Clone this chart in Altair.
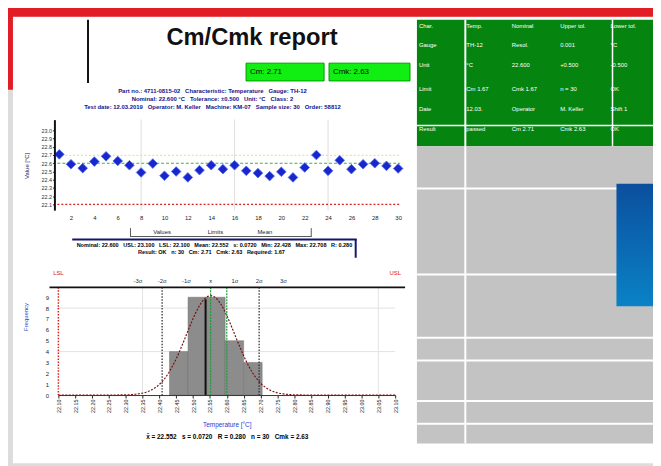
import altair as alt
import pandas as pd

# ---------------- data ----------------
sample_no = list(range(1, 31))
temperature = [22.708, 22.588, 22.540, 22.620, 22.684, 22.628, 22.576, 22.488, 22.596, 22.448,
               22.500, 22.428, 22.516, 22.576, 22.528, 22.576, 22.508, 22.480, 22.444, 22.496,
               22.428, 22.548, 22.700, 22.508, 22.636, 22.528, 22.588, 22.600, 22.568, 22.536]
lsl = 22.10
usl = 23.10
nominal = 22.60
mean = 22.552
median = 22.537
sigma = 0.072
warn_upper = 22.696
two_sigma = [22.408, 22.696]
n_samples = 30
bin_width = 0.055

bin_start = [22.430, 22.485, 22.540, 22.595, 22.650]
bin_end = [22.485, 22.540, 22.595, 22.650, 22.705]
bin_count = [4, 9, 9, 5, 3]

sigma_labels = ["-3σ", "-2σ", "-1σ", "x̄", "1σ", "2σ", "3σ"]
sigma_pos = [22.336, 22.408, 22.480, 22.552, 22.624, 22.696, 22.768]

ctrl_y_ticks = [22.1, 22.2, 22.3, 22.4, 22.5, 22.6, 22.7, 22.8, 22.9, 23.0]
ctrl_x_ticks = [2, 4, 6, 8, 10, 12, 14, 16, 18, 20, 22, 24, 26, 28, 30]
ctrl_grid = [8, 16, 24]
hist_x_ticks = [22.10, 22.15, 22.20, 22.25, 22.30, 22.35, 22.40, 22.45, 22.50, 22.55, 22.60,
                22.65, 22.70, 22.75, 22.80, 22.85, 22.90, 22.95, 23.00, 23.05, 23.10]
hist_y_ticks = [0, 1, 2, 3, 4, 5, 6, 7, 8, 9]
hist_x_grid = [22.35, 23.05]
hist_y_grid = [4, 8]

SP = "\u00a0\u00a0\u00a0"
title_text = "Cm/Cmk report"
cm_text = "Cm: 2.71"
cmk_text = "Cmk: 2.63"
subtitle_lines = [
    SP.join(["Part no.: 4711-0815-02", "Characteristic: Temperature", "Gauge: TH-12"]),
    SP.join(["Nominal: 22.600 °C", "Tolerance: ±0.500", "Unit: °C", "Class: 2"]),
    SP.join(["Test date: 12.03.2019", "Operator: M. Keller", "Machine: KM-07",
             "Sample size: 30", "Order: 58812"]),
]
legend_items = ["Values", "Limits", "Mean"]
stats_lines = [
    SP.join(["Nominal: 22.600", "USL: 23.100", "LSL: 22.100", "Mean: 22.552", "s: 0.0720",
             "Min: 22.428", "Max: 22.708", "R: 0.280"]),
    SP.join(["Result: OK", "n: 30", "Cm: 2.71", "Cmk: 2.63", "Required: 1.67"]),
]
footer_text = SP.join(["x̄ = 22.552", "s = 0.0720", "R = 0.280", "n = 30", "Cmk = 2.63"])

table_rows = [
    ["Char.", "Temp.", "Nominal", "Upper tol.", "Lower tol."],
    ["Gauge", "TH-12", "Resol.", "0.001", "°C"],
    ["Unit", "°C", "22.600", "+0.500", "-0.500"],
    ["Limit", "Cm 1.67", "Cmk 1.67", "n = 30", "OK"],
    ["Date", "12.03.", "Operator", "M. Keller", "Shift 1"],
    ["Result", "passed", "Cm 2.71", "Cmk 2.63", "OK"],
]

# ---------------- layout helpers (page px -> chart px) ----------------
W, H = 653, 458
FONT = "Liberation Sans"
ONE = pd.DataFrame({"k": [0]})


def X(p):
    return p - 8


def Y(p):
    return p - 8


def box(x1, y1, x2, y2, **kw):
    return alt.Chart(ONE).mark_rect(**kw).encode(
        x=alt.value(X(x1)), x2=alt.value(X(x2)), y=alt.value(Y(y1)), y2=alt.value(Y(y2)))


def hline(x1, x2, y, **kw):
    return alt.Chart(ONE).mark_rule(**kw).encode(
        x=alt.value(X(x1)), x2=alt.value(X(x2)), y=alt.value(Y(y)))


def vline(x, y1, y2, **kw):
    return alt.Chart(ONE).mark_rule(**kw).encode(
        x=alt.value(X(x)), y=alt.value(Y(y1)), y2=alt.value(Y(y2)))


def label(text, x, y, size=6, color="#000000", weight="normal", align="center", angle=0):
    return alt.Chart(ONE).mark_text(
        fontSize=size, color=color, fontWeight=weight, align=align, baseline="middle",
        angle=angle, font=FONT).encode(
        x=alt.value(X(x)), y=alt.value(Y(y)), text=alt.value(text))


layers = []

# ---------------- background ----------------
layers.append(box(13, 14, 661, 466, color="#ffffff"))
layers.append(box(0, 0, 661, 14, color="#e31d25"))
layers.append(box(0, 0, 13, 88, color="#e31d25"))

# right table
layers.append(box(422, 17, 661, 145, color="#058510"))
layers.append(box(422, 145, 661, 446, color="#c3c3c3"))
layers.append(hline(422, 661, 124, color="#ffffff", strokeWidth=1.5))
for yy in [188, 275, 339, 362, 403, 426]:
    layers.append(hline(422, 661, yy, color="#ffffff", strokeWidth=2))
layers.append(vline(471, 17, 446, color="#ffffff", strokeWidth=2))
layers.append(vline(620, 17, 145, color="#ffffff", strokeWidth=1.5))
blue_grad = alt.Gradient(
    gradient="linear",
    stops=[alt.GradientStop(offset=0, color="#0b4f9e"), alt.GradientStop(offset=1, color="#0a82c6")],
    x1=0, x2=0, y1=0, y2=1)
layers.append(box(624, 183, 661, 307, color=blue_grad))
col_x = [424, 472, 518, 567, 618]
row_y = [23, 43, 63, 87, 107, 128]
for r, row in enumerate(table_rows):
    for c, cell in enumerate(row):
        layers.append(label(cell, col_x[c], row_y[r], size=6, color="#ffffff", align="left"))

# ---------------- header ----------------
layers.append(vline(89, 17, 81, color="#111111", strokeWidth=2))
layers.append(label(title_text, 255, 36, size=24, weight="bold", color="#111111"))
layers.append(box(249, 61, 328, 79, color="#11ee11", stroke="#009900", strokeWidth=1))
layers.append(box(333, 61, 415, 79, color="#11ee11", stroke="#009900", strokeWidth=1))
layers.append(label(cm_text, 253, 70, size=8, align="left"))
layers.append(label(cmk_text, 337, 70, size=8, align="left"))
for i, line in enumerate(subtitle_lines):
    layers.append(label(line, 215, 89 + 8 * i, size=6, color="#12128c", weight="bold"))

# ---------------- control chart (each layer flat, own explicit scale) ----------------
def cx():
    return alt.Scale(domain=[0.75, 30.17], range=[X(57), X(405)], nice=False, zero=False)


def cy():
    return alt.Scale(domain=[22.03, 23.13], range=[Y(209.8), Y(118.2)], nice=False, zero=False)


ctrl_df = pd.DataFrame({"sample": sample_no, "temp": temperature})

layers.append(alt.Chart(pd.DataFrame({"g": ctrl_grid})).mark_rule(color="#dddddd", strokeWidth=1).encode(
    x=alt.X("g:Q", scale=cx(), axis=None), y=alt.value(Y(118)), y2=alt.value(Y(210))))
layers.append(alt.Chart(pd.DataFrame({"v": [warn_upper]})).mark_rule(
    color="#e8e070", strokeDash=[2, 2], strokeWidth=1).encode(
    y=alt.Y("v:Q", scale=cy(), axis=None), x=alt.value(X(58)), x2=alt.value(X(405))))
layers.append(alt.Chart(pd.DataFrame({"v": [lsl]})).mark_rule(
    color="#d42020", strokeDash=[2, 2], strokeWidth=1.5).encode(
    y=alt.Y("v:Q", scale=cy(), axis=None), x=alt.value(X(58)), x2=alt.value(X(405))))
layers.append(alt.Chart(pd.DataFrame({"v": [nominal]})).mark_rule(
    color="#33bb33", strokeDash=[3, 2], strokeWidth=1.2).encode(
    y=alt.Y("v:Q", scale=cy(), axis=None), x=alt.value(X(58)), x2=alt.value(X(405))))
layers.append(alt.Chart(ctrl_df).mark_point(
    shape="diamond", filled=True, size=95, color="#1a26cc", opacity=1,
    stroke="#4a6cf0", strokeWidth=0.8).encode(
    x=alt.X("sample:Q", scale=cx(), axis=alt.Axis(
        orient="bottom", offset=Y(212) - H, values=ctrl_x_ticks, domain=False, ticks=False,
        grid=False, labelFontSize=6, labelColor="#222222", labelPadding=2, title=None,
        labelFont=FONT, zindex=1)),
    y=alt.Y("temp:Q", scale=cy(), axis=alt.Axis(
        orient="left", offset=-X(55), values=ctrl_y_ticks, format=".1f", domainColor="#111111",
        domainWidth=2, tickSize=2, tickColor="#333333", labelFontSize=5.5, labelPadding=1,
        labelColor="#333333", grid=False, title=None, labelFont=FONT, zindex=1)),
))

# ---------------- histogram ----------------
def hx():
    return alt.Scale(domain=[22.10, 23.10], range=[X(59), X(400)], nice=False, zero=False)


def hy():
    return alt.Scale(domain=[0, 10], range=[Y(397), Y(287)], nice=False, zero=False)


hist_df = pd.DataFrame({"start": bin_start, "end": bin_end, "count": bin_count})

layers.append(alt.Chart(pd.DataFrame({"g": hist_x_grid})).mark_rule(color="#e2e2e2").encode(
    x=alt.X("g:Q", scale=hx(), axis=None), y=alt.value(Y(288)), y2=alt.value(Y(397))))
layers.append(alt.Chart(pd.DataFrame({"g": hist_y_grid})).mark_rule(color="#e2e2e2").encode(
    y=alt.Y("g:Q", scale=hy(), axis=None), x=alt.value(X(57)), x2=alt.value(X(400))))
layers.append(alt.Chart(hist_df).mark_rect(color="#8c8c8c", stroke="#6e6e6e", strokeWidth=0.5).encode(
    x=alt.X("start:Q", scale=hx(), axis=alt.Axis(
        orient="bottom", offset=Y(397) - H, values=hist_x_ticks, format=".2f", labelAngle=-90,
        labelFontSize=5.5, labelColor="#222222", tickSize=3, tickColor="#222222",
        domainColor="#333333", grid=False, title=None, labelFont=FONT, labelPadding=1,
        zindex=1)),
    x2="end:Q",
    y=alt.Y("count:Q", scale=hy(), axis=alt.Axis(
        orient="left", offset=-X(50), values=hist_y_ticks, domain=False, ticks=False,
        labelFontSize=6, labelColor="#222222", labelPadding=1, grid=False, title=None,
        labelFont=FONT, zindex=1)),
    y2=alt.datum(0),
))
layers.append(alt.Chart(alt.sequence(22.10, 23.1001, 0.004, as_="t")).transform_calculate(
    f=f"{n_samples * bin_width}/({sigma}*sqrt(2*PI))*exp(-0.5*pow((datum.t-{mean})/{sigma},2))"
).mark_line(color="#7a0f0f", strokeDash=[2, 1.5], strokeWidth=1.2).encode(
    x=alt.X("t:Q", scale=hx(), axis=None), y=alt.Y("f:Q", scale=hy(), axis=None)))
layers.append(alt.Chart(pd.DataFrame({"v": [lsl]})).mark_rule(
    color="#d42020", strokeDash=[1.5, 1.5], strokeWidth=1.5).encode(
    x=alt.X("v:Q", scale=hx(), axis=None), y=alt.value(Y(288)), y2=alt.value(Y(397))))
layers.append(alt.Chart(pd.DataFrame({"v": two_sigma})).mark_rule(
    color="#222222", strokeDash=[1.5, 1.5], strokeWidth=1.2).encode(
    x=alt.X("v:Q", scale=hx(), axis=None), y=alt.value(Y(288)), y2=alt.value(Y(397))))
layers.append(alt.Chart(pd.DataFrame({"v": [mean, nominal]})).mark_rule(
    color="#1f9a3c", strokeDash=[2, 1], strokeWidth=1.2).encode(
    x=alt.X("v:Q", scale=hx(), axis=None), y=alt.value(Y(288)), y2=alt.value(Y(397))))
layers.append(alt.Chart(pd.DataFrame({"v": [median]})).mark_rule(
    color="#111111", strokeWidth=2).encode(
    x=alt.X("v:Q", scale=hx(), axis=None), y=alt.value(Y(300)), y2=alt.value(Y(397))))
layers.append(alt.Chart(pd.DataFrame({"pos": sigma_pos, "lab": sigma_labels})).mark_text(
    fontSize=6, color="#333333", font=FONT).encode(
    x=alt.X("pos:Q", scale=hx(), axis=None), y=alt.value(Y(282)), text="lab:N"))
layers.append(alt.Chart(pd.DataFrame({"pos": [lsl, usl], "lab": ["LSL", "USL"]})).mark_text(
    fontSize=6, color="#d42020", font=FONT).encode(
    x=alt.X("pos:Q", scale=hx(), axis=None), y=alt.value(Y(273)), text="lab:N"))

# control chart texts
layers.append(label("Value [°C]", 27, 165, size=6, color="#202060", angle=270))
layers.append(hline(132, 315, 236.5, color="#555555", strokeWidth=1))
layers.append(vline(132, 228, 237, color="#555555", strokeWidth=1))
layers.append(vline(315, 228, 237, color="#555555", strokeWidth=1))
for txt, xx in zip(legend_items, [164, 218, 268]):
    layers.append(label(txt, xx, 232, size=6, color="#222222"))
layers.append(hline(73, 361, 239.5, color="#15156e", strokeWidth=2))
layers.append(vline(360, 239, 258, color="#15156e", strokeWidth=2))
layers.append(label(stats_lines[0], 217, 245, size=5.6, weight="bold"))
layers.append(label(stats_lines[1], 214, 252, size=5.6, weight="bold"))

# histogram texts
layers.append(hline(50, 410, 288, color="#111111", strokeWidth=2))
layers.append(label("Frequency", 26, 318, size=6, color="#2040d0", angle=270))
layers.append(label("Temperature [°C]", 230, 427, size=6.5, color="#2040d0"))
layers.append(label(footer_text, 230, 439, size=6.5, weight="bold"))

chart = alt.layer(*layers).resolve_scale(
    x="independent", y="independent"
).properties(
    width=W, height=H, padding=0, autosize=alt.AutoSizeParams(type="none"),
    background="#dcdcdc"
).configure_view(stroke=None)

chart.save("out.html", embed_options={"renderer": "svg", "actions": False})
